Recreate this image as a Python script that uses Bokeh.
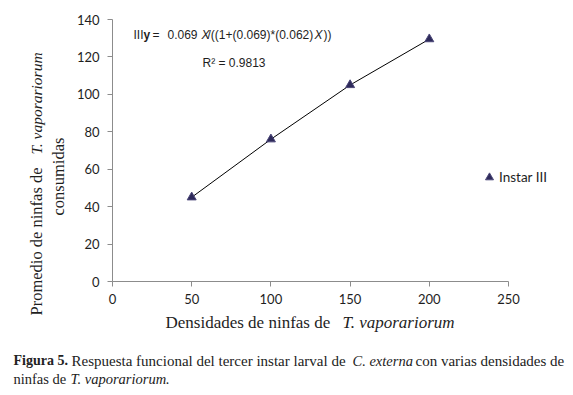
import math
from bokeh.plotting import figure
from bokeh.models import Label, Range1d, Legend, LegendItem
from bokeh.embed import file_html
from bokeh.resources import INLINE

# ---- data ----
densidades = [50, 100, 150, 200]
consumo = [45, 76, 105, 129.5]
x_ticks = [0, 50, 100, 150, 200, 250]
y_ticks = [0, 20, 40, 60, 80, 100, 120, 140]
serie = "Instar III"

W, H = 573, 395
# frame covers whole canvas; axes drawn at fixed data locations
X0, X1 = 112, 508          # pixel of x=0 and x=250
Y0, Y1 = 281, 19           # pixel of y=0 and y=140
sx = (X1 - X0) / 250.0
sy = (Y0 - Y1) / 140.0
x_range = Range1d(-X0 / sx, 250 + (W - X1) / sx)
y_range = Range1d(-(H - Y0) / sy, 140 + Y1 / sy)

p = figure(width=W, height=H, output_backend="svg", toolbar_location=None,
           x_range=x_range, y_range=y_range,
           min_border_left=0, min_border_right=0,
           min_border_top=0, min_border_bottom=0)
p.outline_line_color = None
p.xgrid.visible = False
p.ygrid.visible = False
p.background_fill_color = "white"
p.border_fill_color = "white"

for ax in (p.xaxis[0], p.yaxis[0]):
    ax.fixed_location = 0
    ax.axis_line_color = "#8c8c8c"
    ax.major_tick_line_color = "#8c8c8c"
    ax.minor_tick_line_color = None
    ax.major_tick_in = 0
    ax.major_tick_out = 5
    ax.major_label_text_font = "Lato"
    ax.major_label_text_font_size = "13px"
    ax.major_label_text_color = "#1e1e1e"
p.xaxis.ticker = x_ticks
p.yaxis.ticker = y_ticks
p.xaxis.bounds = (0, 250)
p.yaxis.bounds = (0, 140)
p.xaxis.major_label_standoff = 7
p.yaxis.major_label_standoff = 8

p.line(densidades, consumo, line_color="black", line_width=1)
r = p.scatter(densidades, consumo, marker="triangle", size=9,
              fill_color="#2e2a5a", line_color="#4a4678", line_width=1)

leg = Legend(items=[LegendItem(label=serie, renderers=[r])],
             location=(479, H - 187), padding=0, margin=0, spacing=0,
             glyph_width=20, glyph_height=20, label_standoff=0,
             label_height=20,
             label_text_font="Lato", label_text_font_size="13.5px",
             label_text_color="#1e1e1e",
             border_line_color=None, background_fill_alpha=0)
p.add_layout(leg, "center")

def dx(px):
    return (px - X0) / sx
def dy(py):
    return (Y0 - py) / sy

def lab(text, px, py, font, size, style="normal", align="left", angle=0, color="#1e1e1e"):
    p.add_layout(Label(x=dx(px), y=dy(py), text=text, text_font=font,
                       text_font_size=size, text_font_style=style,
                       text_align=align, text_baseline="middle",
                       angle=angle, text_color=color))

# equation
EQ = "Liberation Sans"
lab("III", 133, 34, EQ, "12px")
lab("y", 143, 34, EQ, "12px", "bold")
lab("=", 152, 34, EQ, "12px")
lab("0.069", 167, 34, EQ, "12px")
lab("X", 201, 34, EQ, "12px", "italic")
lab("/((1+(0.069)*(0.062)", 207, 34, EQ, "12px")
lab("X", 314, 34, EQ, "12px", "italic")
lab("))", 323, 34, EQ, "12px")
lab("R² = 0.9813", 202, 62, EQ, "12px")

# axis titles
SF = "Liberation Serif"
lab("Densidades de ninfas de", 165, 322, SF, "17px")
lab("T. vaporariorum", 342, 322, SF, "17px", "italic")
lab("Promedio de ninfas de", 36, 241, SF, "16.5px", align="center", angle=math.pi / 2)
lab("T. vaporariorum", 36, 103, SF, "15.5px", "italic", align="center", angle=math.pi / 2)
lab("consumidas", 58, 176, SF, "16.5px", align="center", angle=math.pi / 2)

# caption
CC = "#222222"
lab("Figura 5.", 13, 360, SF, "14px", "bold", color=CC)
lab("Respuesta funcional del tercer instar larval de", 71, 360, SF, "15px", color=CC)
lab("C. externa", 352, 360, SF, "14.5px", "italic", color=CC)
lab("con varias densidades de", 415, 360, SF, "15px", color=CC)
lab("ninfas de", 13, 378, SF, "14.5px", color=CC)
lab("T. vaporariorum.", 70, 378, SF, "14.5px", "italic", color=CC)

open("out.html", "w").write(file_html(p, INLINE))
